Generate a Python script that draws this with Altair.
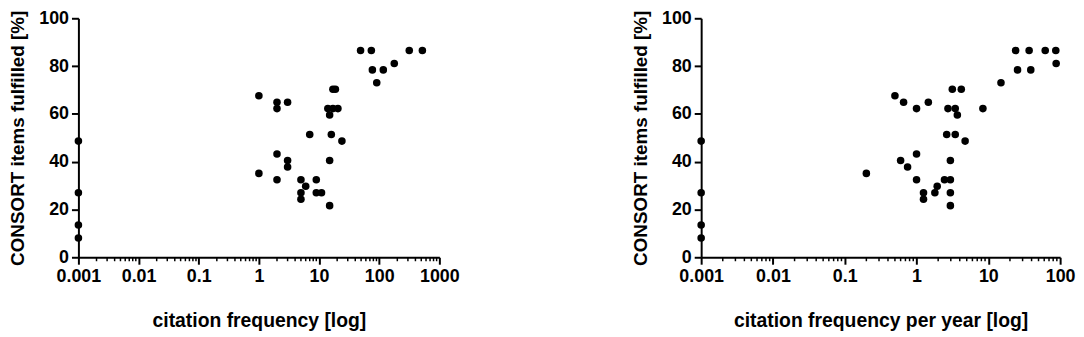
import altair as alt
import pandas as pd

# Left panel: citation frequency (log) vs CONSORT items fulfilled [%]
left_x = [0.001, 0.001, 0.001, 0.001,
          1, 1,
          2, 2, 2, 2,
          3, 3, 3,
          5, 5, 5,
          6, 7, 9, 9, 11,
          14, 15, 15, 15, 16, 17, 17, 18.7, 20.6, 24,
          49, 74, 77, 91, 117, 178, 316, 522]
left_y = [48.6, 27.0, 13.5, 8.1,
          67.6, 35.1,
          64.9, 62.2, 43.2, 32.4,
          64.9, 40.5, 37.8,
          32.4, 27.0, 24.3,
          29.7, 51.4, 32.4, 27.0, 27.0,
          62.2, 59.5, 40.5, 21.6, 51.4, 70.3, 62.2, 70.3, 62.2, 48.6,
          86.5, 86.5, 78.4, 73.0, 78.4, 81.1, 86.5, 86.5]

# Right panel: citation frequency per year (log)
right_x = [0.001, 0.001, 0.001, 0.001,
           0.2, 0.5, 0.66, 1, 1, 1, 1.46, 0.6, 0.75, 1.25, 1.25, 1.8, 1.94,
           2.45, 2.96, 2.96, 2.96, 2.96,
           2.63, 3.46, 2.74, 3.46, 3.7, 4.75, 8.4, 3.15, 4.2,
           15, 24, 25.5, 37, 39, 62, 87, 88]
right_y = [48.6, 27.0, 13.5, 8.1,
           35.1, 67.6, 64.9, 62.2, 43.2, 32.4, 64.9, 40.5, 37.8, 27.0, 24.3, 27.0, 29.7,
           32.4, 32.4, 40.5, 27.0, 21.6,
           51.4, 51.4, 62.2, 62.2, 59.5, 48.6, 62.2, 70.3, 70.3,
           73.0, 86.5, 78.4, 86.5, 78.4, 86.5, 86.5, 81.1]

left_major = [0.001, 0.01, 0.1, 1, 10, 100, 1000]
right_major = [0.001, 0.01, 0.1, 1, 10, 100]
y_ticks = [0, 20, 40, 60, 80, 100]
minor_mult = [2, 3, 4, 5, 6, 7, 8, 9]

y_title = "CONSORT items fulfilled [%]"
left_title = "citation frequency [log]"
right_title = "citation frequency per year [log]"

FONT = "Liberation Sans"
PH = 241


def minor_ticks(majors):
    vals = []
    for m in majors[:-1]:
        for k in minor_mult:
            vals.append(round(m * k, 6))
    return vals


def panel(xs, ys, majors, xtitle, width):
    df = pd.DataFrame({"x": xs, "y": ys})
    mdf = pd.DataFrame({"m": minor_ticks(majors)})
    xscale = alt.Scale(type="log", domain=[majors[0], majors[-1]], nice=False)
    pts = alt.Chart(df).mark_circle(size=58, color="black", opacity=1, clip=False).encode(
        x=alt.X("x:Q", scale=xscale,
                axis=alt.Axis(values=majors, format="~g", title=xtitle,
                              titlePadding=27, titleFontSize=19.5)),
        y=alt.Y("y:Q", scale=alt.Scale(domain=[0, 100], nice=False),
                axis=alt.Axis(values=y_ticks, title=y_title, titlePadding=11,
                              titleFontSize=19)),
    )
    minors = alt.Chart(mdf).mark_rule(color="black", strokeWidth=1.5, clip=False).encode(
        x=alt.X("m:Q", scale=xscale),
        y=alt.value(PH),
        y2=alt.value(PH + 4),
    )
    return alt.layer(minors, pts).properties(width=width, height=PH)


left = panel(left_x, left_y, left_major, left_title, 364)
right = panel(right_x, right_y, right_major, right_title, 362)

chart = alt.hconcat(left, right, spacing=172).properties(padding=0).configure_view(
    stroke=None
).configure_axis(
    grid=False,
    domainColor="black",
    domainWidth=2,
    tickColor="black",
    tickWidth=2,
    tickSize=7,
    labelFont=FONT,
    labelFontWeight="bold",
    labelFontSize=18,
    labelColor="black",
    labelPadding=3,
    titleFont=FONT,
    titleFontWeight="bold",
    titleColor="black",
    labelFlush=False,
    labelOverlap=False,
)

chart.save("out.html", embed_options={"renderer": "svg", "actions": False})
